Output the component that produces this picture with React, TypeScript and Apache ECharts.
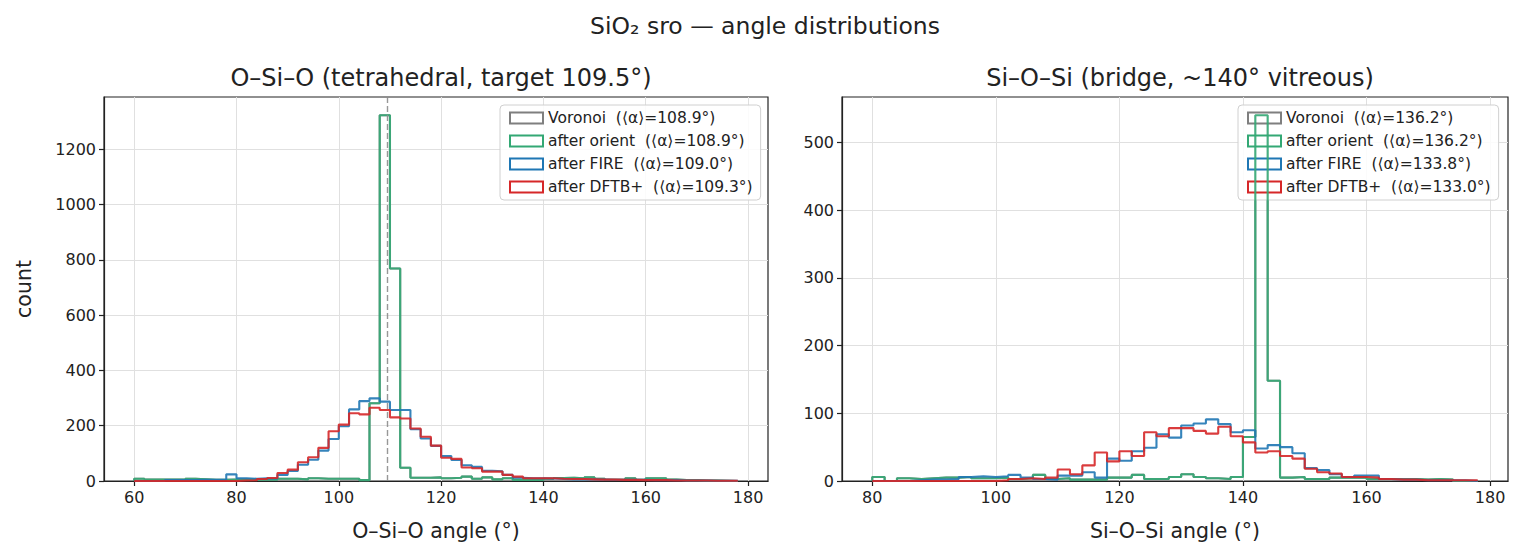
import { useEffect, useRef } from "react";
import * as echarts from "echarts";

// Histogram bins: 2° wide, left edges start at these angles
const BIN_WIDTH = 2;
const oSiOStart = 60;
const siOSiStart = 80;

// O–Si–O bond-angle counts per bin (60°..178°)
const oSiOOrient = [
  8, 5, 5, 5, 5, 8, 6, 4, 4, 5, 5, 5, 6, 5, 8, 8, 6, 10, 8, 8, 8, 8, 3, 281, 1323, 769, 48, 12, 12, 13,
  10, 12, 16, 8, 13, 6, 10, 4, 4, 4, 8, 11, 12, 10, 13, 8, 4, 4, 10, 4, 10, 10, 5, 3, 3, 2, 2, 1, 0,
];
// the Voronoi histogram coincides with the oriented one
const oSiOVoronoi = [...oSiOOrient];
const oSiOFire = [
  0, 0, 0, 3, 3, 3, 4, 4, 5, 24, 10, 8, 10, 9, 22, 36, 59, 77, 110, 152, 198, 259, 289, 299, 287, 257, 257, 187, 154, 127,
  90, 76, 57, 51, 37, 35, 22, 12, 10, 10, 9, 7, 6, 6, 6, 5, 4, 4, 4, 4, 3, 3, 3, 2, 2, 2, 1, 1, 1,
];
const oSiODftb = [
  0, 0, 0, 0, 0, 0, 0, 0, 0, 0, 2, 3, 7, 11, 29, 41, 68, 86, 120, 180, 204, 245, 241, 265, 257, 230, 226, 190, 160, 128,
  84, 80, 49, 46, 34, 34, 22, 16, 10, 10, 10, 8, 7, 7, 6, 5, 5, 4, 4, 3, 3, 3, 2, 2, 2, 2, 1, 1, 1,
];

// Si–O–Si bond-angle counts per bin (80°..178°)
const siOSiOrient = [
  6, 0, 4, 3, 4, 5, 5, 6, 4, 4, 5, 3, 4, 9, 3, 4, 2, 2, 2, 5, 5, 9, 3, 3, 6,
  10, 6, 4, 3, 6, 65, 540, 148, 5, 6, 3, 3, 5, 5, 5, 3, 3, 3, 3, 2, 3, 2, 0, 0,
];
const siOSiVoronoi = [...siOSiOrient];
const siOSiFire = [
  0, 0, 0, 1, 2, 2, 3, 6, 7, 6, 7, 9, 5, 3, 2, 8, 8, 13, 5, 33, 30, 44, 49, 69, 64,
  82, 85, 91, 84, 72, 75, 48, 53, 50, 41, 19, 16, 10, 6, 8, 8, 3, 2, 2, 1, 1, 1, 1, 0,
];
const siOSiDftb = [
  0, 0, 0, 0, 0, 0, 0, 0, 0, 0, 1, 3, 4, 3, 5, 17, 10, 23, 42, 29, 44, 37, 72, 66, 78,
  78, 74, 70, 80, 66, 57, 42, 44, 37, 33, 18, 13, 11, 6, 6, 5, 3, 2, 2, 1, 1, 1, 1, 1,
];

// Legend labels
const oSiONames = [
  "Voronoi  (⟨α⟩=108.9°)",
  "after orient  (⟨α⟩=108.9°)",
  "after FIRE  (⟨α⟩=109.0°)",
  "after DFTB+  (⟨α⟩=109.3°)",
];
const siOSiNames = [
  "Voronoi  (⟨α⟩=136.2°)",
  "after orient  (⟨α⟩=136.2°)",
  "after FIRE  (⟨α⟩=133.8°)",
  "after DFTB+  (⟨α⟩=133.0°)",
];
const stageColors = ["#7f7f7f", "#33a874", "#1f77b4", "#d62728"];

// Axis ticks
const oSiOTicksX = [60, 80, 100, 120, 140, 160, 180];
const siOSiTicksX = [80, 100, 120, 140, 160, 180];
const oSiOTicksY = [0, 200, 400, 600, 800, 1000, 1200];
const siOSiTicksY = [0, 100, 200, 300, 400, 500];
const tetrahedralTarget = 109.5;

const FONT = "DejaVu Sans";
const INK = "#222";

// outline of a step histogram, as drawn by histtype="step"
function stepOutline(start: number, counts: number[]): number[][] {
  const pts: number[][] = [[start, 0]];
  counts.forEach((c, i) => {
    pts.push([start + i * BIN_WIDTH, c]);
    pts.push([start + (i + 1) * BIN_WIDTH, c]);
  });
  pts.push([start + counts.length * BIN_WIDTH, 0]);
  return pts;
}

const plain = (v: number) => String(v);

function xAxisFor(gridIndex: number, min: number, max: number, ticks: number[], name: string) {
  return {
    type: "value",
    gridIndex,
    min,
    max,
    name,
    nameLocation: "middle",
    nameGap: 39,
    nameTextStyle: { fontFamily: FONT, fontSize: 20.5, color: INK },
    axisLine: { show: true, onZero: false, lineStyle: { color: INK, width: 1.2 } },
    axisTick: { show: true, length: 5, customValues: ticks, lineStyle: { color: INK, width: 1.2 } },
    axisLabel: { customValues: ticks, formatter: plain, fontFamily: FONT, fontSize: 16, color: INK, margin: 8 },
    splitLine: { show: true, lineStyle: { color: "#e0e0e0", width: 1 } },
  };
}

function yAxisFor(gridIndex: number, max: number, ticks: number[], name: string) {
  return {
    type: "value",
    gridIndex,
    min: 0,
    max,
    name,
    nameLocation: "middle",
    nameGap: 70,
    nameTextStyle: { fontFamily: FONT, fontSize: 20.5, color: INK },
    axisLine: { show: true, lineStyle: { color: INK, width: 1.2 } },
    axisTick: { show: true, length: 5, customValues: ticks, lineStyle: { color: INK, width: 1.2 } },
    axisLabel: { customValues: ticks, formatter: plain, fontFamily: FONT, fontSize: 16, color: INK, margin: 8 },
    splitLine: { show: true, lineStyle: { color: "#e0e0e0", width: 1 } },
  };
}

function histSeries(name: string, color: string, axisIndex: number, start: number, counts: number[], z: number) {
  return {
    type: "line",
    name,
    xAxisIndex: axisIndex,
    yAxisIndex: axisIndex,
    data: stepOutline(start, counts),
    showSymbol: false,
    symbol: "none",
    silent: true,
    z,
    color,
    lineStyle: { color, width: 2.1, opacity: 0.9 },
  };
}

function legendFor(left: number, names: string[]) {
  return {
    orient: "vertical",
    left,
    top: 105,
    selectedMode: false,
    itemWidth: 33,
    itemHeight: 11,
    itemGap: 7,
    padding: [5, 8, 5, 9],
    backgroundColor: "rgba(255,255,255,0.85)",
    borderColor: "#d0d0d0",
    borderWidth: 1,
    borderRadius: 4,
    textStyle: { fontFamily: FONT, fontSize: 15.5, color: INK },
    data: names.map((n, i) => ({
      name: n,
      icon: "rect",
      itemStyle: { color: "rgba(0,0,0,0)", borderColor: stageColors[i], borderWidth: 2 },
    })),
  };
}

export default function App() {
  const ref = useRef<HTMLDivElement>(null);

  useEffect(() => {
    if (!ref.current) return;
    const chart = echarts.init(ref.current, undefined, { renderer: "svg" });

    const leftSeries = [oSiOVoronoi, oSiOOrient, oSiOFire, oSiODftb].map((c, i) =>
      histSeries(oSiONames[i], stageColors[i], 0, oSiOStart, c, 3 + i)
    );
    const rightSeries = [siOSiVoronoi, siOSiOrient, siOSiFire, siOSiDftb].map((c, i) =>
      histSeries(siOSiNames[i], stageColors[i], 1, siOSiStart, c, 3 + i)
    );
    // dashed reference at the ideal tetrahedral angle
    (leftSeries[3] as any).markLine = {
      silent: true,
      symbol: "none",
      z: 10,
      label: { show: false },
      lineStyle: { color: "#8c8c8c", type: [6, 3], width: 1.4, opacity: 0.9 },
      data: [{ xAxis: tetrahedralTarget }],
    };

    const leftMax = Math.max(...oSiOOrient, ...oSiOFire, ...oSiODftb) * 1.05;
    const rightMax = Math.max(...siOSiOrient, ...siOSiFire, ...siOSiDftb) * 1.05;

    chart.setOption({
      animation: false,
      backgroundColor: "#ffffff",
      textStyle: { fontFamily: FONT },
      title: [
        {
          text: "SiO₂ sro — angle distributions",
          left: 760,
          top: 9,
          textAlign: "center",
          textStyle: { fontFamily: FONT, fontSize: 23.5, fontWeight: "normal", color: INK },
        },
        {
          text: "O–Si–O (tetrahedral, target 109.5°)",
          left: 436,
          top: 61,
          textAlign: "center",
          textStyle: { fontFamily: FONT, fontSize: 24, fontWeight: "normal", color: INK },
        },
        {
          text: "Si–O–Si (bridge, ~140° vitreous)",
          left: 1175,
          top: 61,
          textAlign: "center",
          textStyle: { fontFamily: FONT, fontSize: 24, fontWeight: "normal", color: INK },
        },
      ],
      grid: [
        { left: 104, top: 97, width: 664, height: 384, show: true, borderColor: INK, borderWidth: 1.2, backgroundColor: "transparent" },
        { left: 842, top: 97, width: 666, height: 384, show: true, borderColor: INK, borderWidth: 1.2, backgroundColor: "transparent" },
      ],
      xAxis: [
        xAxisFor(0, 54.1, 183.9, oSiOTicksX, "O–Si–O angle (°)"),
        xAxisFor(1, 75.1, 182.9, siOSiTicksX, "Si–O–Si angle (°)"),
      ],
      yAxis: [yAxisFor(0, leftMax, oSiOTicksY, "count"), yAxisFor(1, rightMax, siOSiTicksY, "")],
      legend: [legendFor(500, oSiONames), legendFor(1238, siOSiNames)],
      series: [...leftSeries, ...rightSeries],
    });

    return () => chart.dispose();
  }, []);

  return (
    <div
      ref={ref}
      style={{ position: "absolute", left: 0, top: 0, width: 1521, height: 554, background: "#fff" }}
    />
  );
}
